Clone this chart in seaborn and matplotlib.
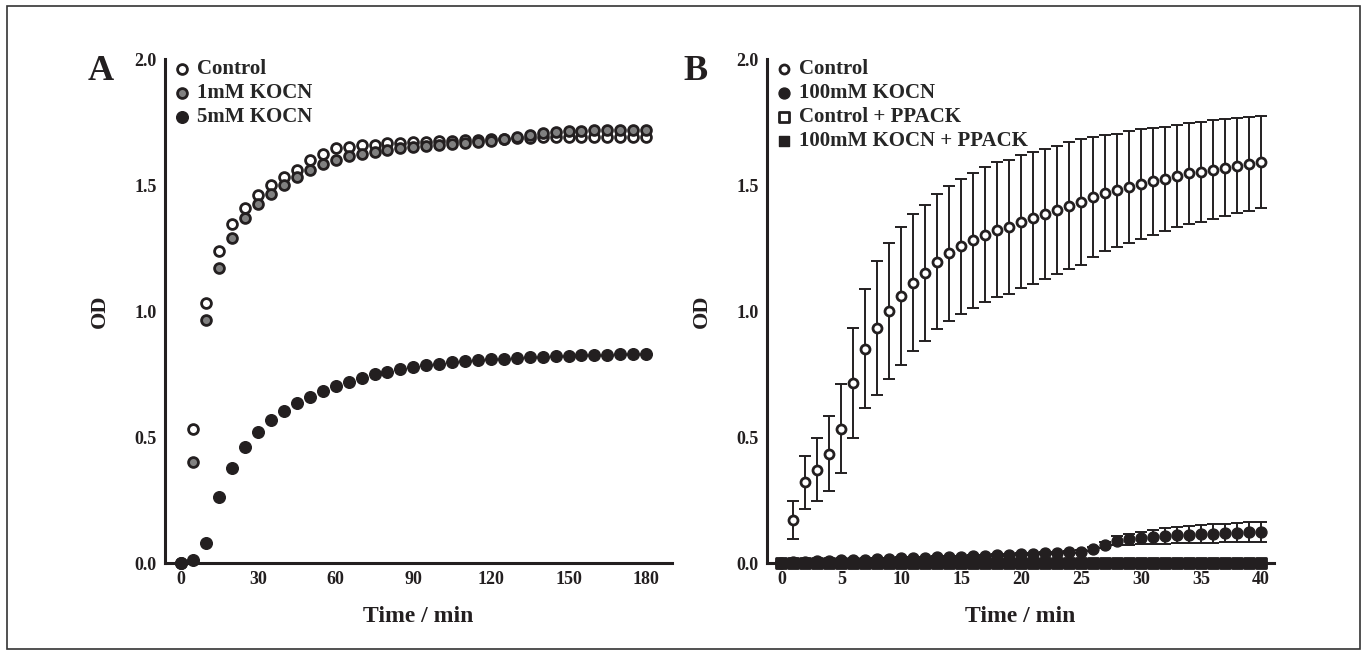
import matplotlib
matplotlib.use("Agg")
import matplotlib.pyplot as plt
import seaborn as sns

# Panel A: OD readings every 5 min
time_a = list(range(0, 181, 5))
control_a = [0.0, 0.53, 1.03, 1.24, 1.345, 1.41, 1.46, 1.50, 1.53, 1.56, 1.60, 1.625,
             1.645, 1.652, 1.657, 1.66, 1.665, 1.668, 1.67, 1.672, 1.674, 1.676, 1.678, 1.68,
             1.682, 1.684, 1.686, 1.688, 1.689, 1.69, 1.69, 1.69, 1.69, 1.69, 1.69, 1.69, 1.69]
kocn_1mm_a = [0.0, 0.40, 0.965, 1.17, 1.29, 1.37, 1.425, 1.465, 1.50, 1.53, 1.56, 1.585,
              1.60, 1.615, 1.625, 1.632, 1.64, 1.648, 1.652, 1.656, 1.66, 1.664, 1.668, 1.672,
              1.676, 1.682, 1.69, 1.70, 1.708, 1.712, 1.715, 1.716, 1.718, 1.718, 1.718, 1.718, 1.718]
kocn_5mm_a = [0.0, 0.012, 0.078, 0.26, 0.378, 0.462, 0.519, 0.567, 0.603, 0.636, 0.66, 0.684,
              0.702, 0.718, 0.733, 0.75, 0.759, 0.769, 0.779, 0.785, 0.791, 0.796, 0.80, 0.804,
              0.808, 0.811, 0.814, 0.817, 0.819, 0.821, 0.823, 0.825, 0.826, 0.827, 0.828, 0.829, 0.83]

# Panel B: mean +/- SD every minute
time_b = list(range(0, 41))
time_b_control = list(range(1, 41))
control_b = [0.171, 0.32, 0.37, 0.434, 0.533, 0.716, 0.851, 0.932, 1.0, 1.059,
             1.112, 1.152, 1.196, 1.229, 1.257, 1.28, 1.303, 1.323, 1.334, 1.355,
             1.369, 1.384, 1.40, 1.417, 1.433, 1.451, 1.467, 1.479, 1.493, 1.505,
             1.515, 1.524, 1.537, 1.546, 1.552, 1.56, 1.569, 1.577, 1.583, 1.591]
control_b_sd = [0.075, 0.104, 0.125, 0.15, 0.177, 0.218, 0.235, 0.265, 0.268, 0.275,
                0.272, 0.27, 0.268, 0.267, 0.267, 0.268, 0.268, 0.268, 0.265, 0.263,
                0.263, 0.258, 0.253, 0.252, 0.249, 0.238, 0.23, 0.225, 0.222, 0.218,
                0.212, 0.208, 0.203, 0.2, 0.199, 0.196, 0.193, 0.19, 0.187, 0.184]
kocn_100mm_b = [0.0, 0.002, 0.004, 0.006, 0.008, 0.01, 0.012, 0.013, 0.015, 0.016, 0.018,
                0.019, 0.021, 0.022, 0.024, 0.025, 0.027, 0.028, 0.03, 0.032, 0.034,
                0.036, 0.038, 0.04, 0.042, 0.045, 0.056, 0.071, 0.088, 0.094, 0.10,
                0.104, 0.107, 0.11, 0.113, 0.115, 0.117, 0.119, 0.121, 0.122, 0.124]
kocn_100mm_b_sd = [0.004, 0.004, 0.004, 0.004, 0.004, 0.004, 0.004, 0.004, 0.004, 0.004, 0.004,
                   0.004, 0.004, 0.004, 0.004, 0.004, 0.004, 0.004, 0.004, 0.004, 0.004,
                   0.004, 0.004, 0.004, 0.004, 0.005, 0.008, 0.012, 0.018, 0.022, 0.025,
                   0.028, 0.03, 0.032, 0.034, 0.035, 0.036, 0.037, 0.038, 0.039, 0.04]
control_ppack_b = [0.0, 0.0, 0.0, 0.0, 0.0, 0.0, 0.0, 0.0, 0.0, 0.0, 0.0,
                   0.0, 0.0, 0.0, 0.0, 0.0, 0.0, 0.0, 0.0, 0.0, 0.0,
                   0.0, 0.0, 0.0, 0.0, 0.0, 0.0, 0.0, 0.0, 0.0, 0.0,
                   0.0, 0.0, 0.0, 0.0, 0.0, 0.0, 0.0, 0.0, 0.0, 0.0]
kocn_ppack_b = [0.0, 0.0, 0.0, 0.0, 0.0, 0.0, 0.0, 0.0, 0.0, 0.0, 0.0,
                0.0, 0.0, 0.0, 0.0, 0.0, 0.0, 0.0, 0.0, 0.0, 0.0,
                0.0, 0.0, 0.0, 0.0, 0.0, 0.0, 0.0, 0.0, 0.0, 0.0,
                0.0, 0.0, 0.0, 0.0, 0.0, 0.0, 0.0, 0.0, 0.0, 0.0]

ink = "#231f20"
grey = "#808080"

sns.set_style("white")
plt.rcParams["font.family"] = ["Liberation Serif", "DejaVu Serif"]
plt.rcParams["font.weight"] = "bold"

fig = plt.figure(figsize=(13.64, 6.56), dpi=100)
ax_a = fig.add_axes([165 / 1364, 93 / 656, 507 / 1364, 504 / 656])
ax_b = fig.add_axes([767 / 1364, 93 / 656, 507 / 1364, 504 / 656])

# outer frame
fig.add_artist(plt.Rectangle((7 / 1364, 7 / 656), 1353 / 1364, 643 / 656,
                             transform=fig.transFigure, fill=False, lw=1.2, ec="#333333"))

# --- Panel A
sns.scatterplot(x=time_a, y=control_a, ax=ax_a, marker="o", s=50, color="white",
                edgecolor=ink, linewidth=2.0, clip_on=False, zorder=3, label="Control")
sns.scatterplot(x=time_a, y=kocn_1mm_a, ax=ax_a, marker="o", s=50, color=grey,
                edgecolor=ink, linewidth=2.0, clip_on=False, zorder=4, label="1mM KOCN")
sns.scatterplot(x=time_a, y=kocn_5mm_a, ax=ax_a, marker="o", s=70, color=ink,
                edgecolor=ink, linewidth=1.0, clip_on=False, zorder=5, label="5mM KOCN")
ax_a.set_xlim(-6, 190)
ax_a.set_xticks([0, 30, 60, 90, 120, 150, 180])

# --- Panel B
ax_b.errorbar(time_b_control, control_b, yerr=control_b_sd, fmt="none", ecolor=ink,
              elinewidth=1.4, capsize=4.5, capthick=1.4, zorder=2)
sns.scatterplot(x=time_b_control, y=control_b, ax=ax_b, marker="o", s=42, color="white",
                edgecolor=ink, linewidth=2.0, clip_on=False, zorder=3, label="Control")
ax_b.errorbar(time_b, kocn_100mm_b, yerr=kocn_100mm_b_sd, fmt="none", ecolor=ink,
              elinewidth=1.4, capsize=4.5, capthick=1.4, zorder=2)
sns.scatterplot(x=time_b, y=kocn_100mm_b, ax=ax_b, marker="o", s=62, color=ink,
                edgecolor=ink, linewidth=1.0, clip_on=False, zorder=6, label="100mM KOCN")
sns.scatterplot(x=time_b, y=control_ppack_b, ax=ax_b, marker="s", s=42, color="white",
                edgecolor=ink, linewidth=2.0, clip_on=False, zorder=4, label="Control + PPACK")
sns.scatterplot(x=time_b, y=kocn_ppack_b, ax=ax_b, marker="s", s=62, color=ink,
                edgecolor=ink, linewidth=1.0, clip_on=False, zorder=5, label="100mM KOCN + PPACK")
ax_b.set_xlim(-1.2, 41.1)
ax_b.set_xticks(range(0, 41, 5))

for ax in (ax_a, ax_b):
    ax.set_ylim(0, 2.0)
    ax.set_yticks([0, 0.5, 1.0, 1.5, 2.0])
    ax.set_yticklabels(["0.0", "0.5", "1.0", "1.5", "2.0"])
    for side in ("top", "right"):
        ax.spines[side].set_visible(False)
    for side in ("left", "bottom"):
        ax.spines[side].set_linewidth(2.2)
        ax.spines[side].set_color(ink)
    ax.tick_params(direction="out", length=4, width=2.2, color=ink, labelcolor=ink,
                   labelsize=13, pad=2)
    for lab in ax.get_xticklabels() + ax.get_yticklabels():
        lab.set_fontweight("bold")
    ax.set_xlabel("Time / min", fontsize=17, fontweight="bold", color=ink)
    ax.set_ylabel("OD", fontsize=16, fontweight="bold", color=ink)
    ax.xaxis.set_label_coords(0.5, -0.085)
    ax.yaxis.set_label_coords(-0.108, 0.5)
    ax.legend(loc="upper left", bbox_to_anchor=(0.022, 1.0), frameon=False,
              handlelength=0.6, handletextpad=0.42, borderpad=0,
              borderaxespad=0, labelspacing=0.2, scatterpoints=1,
              prop={"weight": "bold", "size": 15})

fig.text(101 / 1364, 1 - 72 / 656, "A", fontsize=26, fontweight="bold", color=ink,
         ha="center", va="center")
fig.text(696 / 1364, 1 - 71 / 656, "B", fontsize=26, fontweight="bold", color=ink,
         ha="center", va="center")

fig.savefig("out.png", dpi=100, facecolor="white")
